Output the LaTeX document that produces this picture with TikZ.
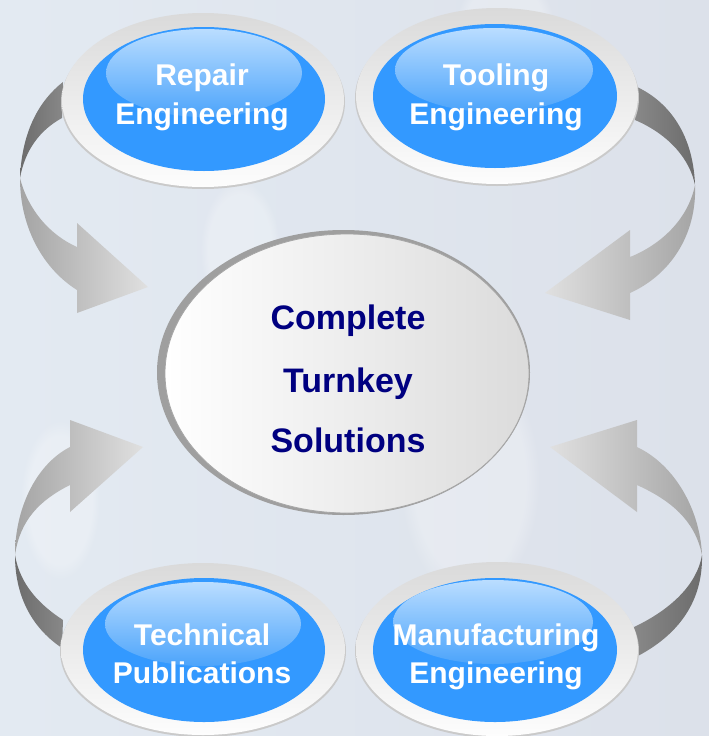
\documentclass[tikz,border=0pt]{standalone}
\usepackage{fontspec}
\setmainfont{Liberation Sans}
\usetikzlibrary{fadings}
\definecolor{bgl}{HTML}{E3EAF2}
\definecolor{bgr}{HTML}{DCE1EA}
\definecolor{ringtop}{HTML}{DADADA}
\definecolor{ringbot}{HTML}{FDFDFD}
\definecolor{rim}{HTML}{CACACA}
\definecolor{bluemain}{HTML}{3399FF}
\definecolor{hltop}{HTML}{BADDFF}
\definecolor{hlbot}{HTML}{4CA4FB}
\definecolor{navy}{HTML}{000080}
\definecolor{darkA}{HTML}{6C6C6C}
\definecolor{darkB}{HTML}{888888}
\definecolor{lightA}{HTML}{A4A4A4}
\definecolor{lightB}{HTML}{E0E0E0}
\tikzset{
  lbl/.style={anchor=base, text=white, font=\fontsize{30}{36}\selectfont\bfseries, inner sep=0pt},
  ctr/.style={anchor=base, text=navy, font=\fontsize{34}{40}\selectfont\bfseries, inner sep=0pt},
  blob/.style={fill=white, path fading=circle with fuzzy edge 20 percent, opacity=0.25}
}
\begin{document}
\begin{tikzpicture}[x=1pt,y=-1pt]
\useasboundingbox (0,0) rectangle (709,736);
% background
\shade[left color=bgl, right color=bgr] (0,0) rectangle (709,736);
\fill[blob] (505,30) ellipse [x radius=50pt, y radius=60pt];
\fill[blob] (470,480) ellipse [x radius=70pt, y radius=120pt];
\fill[blob] (60,500) ellipse [x radius=40pt, y radius=80pt];
\fill[blob] (240,250) ellipse [x radius=40pt, y radius=70pt];

% ---- arrows (ribbons) ----
% top-left
\shade[left color=darkA, right color=darkB]
  (63,82) .. controls (40,100) and (22,130) .. (20,178)
  .. controls (25,150) and (40,130) .. (62,118) -- cycle;
\shade[left color=lightA, right color=lightB]
  (20,178) .. controls (20,230) and (45,270) .. (77,290)
  -- (77,313) -- (148,287) -- (77,223) -- (77,247)
  .. controls (50,235) and (28,210) .. (20,178) -- cycle;
% top-right
\shade[left color=darkB, right color=darkA]
  (637,87) .. controls (665,100) and (693,130) .. (695,185)
  .. controls (690,160) and (670,135) .. (635,120) -- cycle;
\shade[left color=lightB, right color=lightA]
  (695,185) .. controls (697,235) and (670,275) .. (630,293)
  -- (630,320) -- (545,293) -- (630,230) -- (630,257)
  .. controls (660,245) and (688,220) .. (695,185) -- cycle;
% bottom-left
\shade[left color=lightA, right color=lightB]
  (70,420) -- (143,447) -- (70,512) -- (70,485)
  .. controls (40,500) and (20,520) .. (15,555)
  .. controls (15,510) and (35,465) .. (70,447) -- cycle;
\shade[left color=darkA, right color=darkB]
  (15,555) .. controls (15,600) and (35,630) .. (62,648)
  -- (63,620) .. controls (40,605) and (20,585) .. (15,555) -- cycle;
% bottom-right
\shade[left color=lightB, right color=lightA]
  (637,420) -- (550,447) -- (637,512) -- (637,485)
  .. controls (670,500) and (695,520) .. (702,555)
  .. controls (700,510) and (675,465) .. (637,447) -- cycle;
\shade[left color=darkB, right color=darkA]
  (702,555) .. controls (703,600) and (680,635) .. (634,658)
  -- (634,627) .. controls (670,610) and (697,585) .. (702,555) -- cycle;

% ---- four outer nodes ----
% top-left
\fill[rim] (203,102) ellipse [x radius=142pt, y radius=87pt];
\shade[top color=ringtop, bottom color=ringbot] (203,100) ellipse [x radius=141pt, y radius=87pt];
\fill[bluemain] (204,99) ellipse [x radius=121pt, y radius=72pt];
\shade[top color=hltop, bottom color=hlbot] (204,73) ellipse [x radius=98pt, y radius=44pt];
\node[lbl] (re1) at (202,85) {Repair};
\node[lbl] (re2) at (202,124) {Engineering};
% top-right
\fill[rim] (497,98) ellipse [x radius=142pt, y radius=88pt];
\shade[top color=ringtop, bottom color=ringbot] (497,96) ellipse [x radius=141pt, y radius=88pt];
\fill[bluemain] (495,96) ellipse [x radius=122pt, y radius=72pt];
\shade[top color=hltop, bottom color=hlbot] (494,70) ellipse [x radius=99pt, y radius=42pt];
\node[lbl] (te1) at (496,85) {Tooling};
\node[lbl] (te2) at (496,124) {Engineering};
% bottom-left
\fill[rim] (203,651) ellipse [x radius=143pt, y radius=86pt];
\shade[top color=ringtop, bottom color=ringbot] (203,649) ellipse [x radius=142pt, y radius=86pt];
\fill[bluemain] (204,650) ellipse [x radius=121pt, y radius=72pt];
\shade[top color=hltop, bottom color=hlbot] (203,624) ellipse [x radius=98pt, y radius=42pt];
\node[lbl] (tp1) at (202,645) {Technical};
\node[lbl] (tp2) at (202,683) {Publications};
% bottom-right
\fill[rim] (497,651) ellipse [x radius=142pt, y radius=87pt];
\shade[top color=ringtop, bottom color=ringbot] (497,649) ellipse [x radius=141pt, y radius=87pt];
\fill[bluemain] (495,650) ellipse [x radius=122pt, y radius=72pt];
\shade[top color=hltop, bottom color=hlbot] (493,622) ellipse [x radius=100pt, y radius=42pt];
\node[lbl] (me1) at (496,645) {Manufacturing};
\node[lbl] (me2) at (496,683) {Engineering};

% ---- centre ----
\fill[gray!75] (343.5,372.5) ellipse [x radius=186.5pt, y radius=142.5pt];
\shade[left color=white, right color=black!14, draw=black!35, line width=0.8pt]
  (347,373.5) ellipse [x radius=182pt, y radius=139.5pt];
\node[ctr] (c1) at (348,329) {Complete};
\node[ctr] (c2) at (348,392) {Turnkey};
\node[ctr] (c3) at (348,452) {Solutions};
\end{tikzpicture}
\end{document}
